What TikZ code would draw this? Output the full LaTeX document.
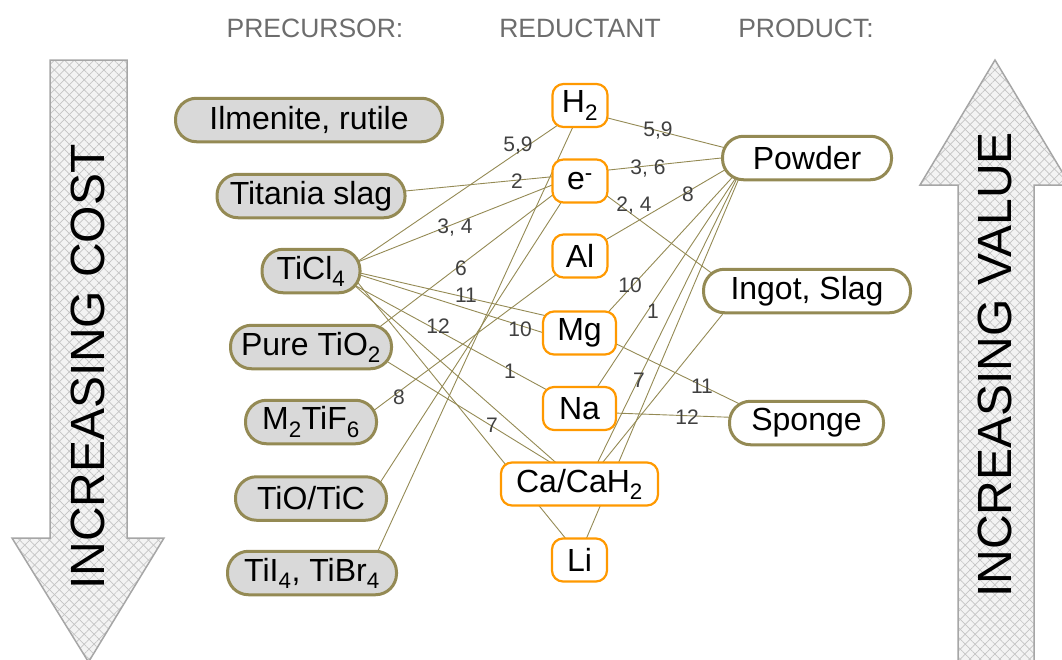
\documentclass[tikz,border=0pt]{standalone}
\usepackage{fontspec}
\setmainfont{Liberation Sans}
\usetikzlibrary{calc,patterns.meta}
\pgfdeclarelayer{bg}
\pgfsetlayers{bg,main}
\definecolor{olv}{HTML}{948A54}
\definecolor{org}{HTML}{FF9900}
\definecolor{gfill}{HTML}{D9D9D9}
\definecolor{lblc}{HTML}{404040}
\definecolor{hdrc}{HTML}{6D6D6D}
\definecolor{hatchbg}{HTML}{F3F3F3}
\definecolor{hatchln}{HTML}{C4C4C4}
\definecolor{arrbd}{HTML}{A6A6A6}
\tikzset{
  prec/.style={draw=olv, line width=3pt, fill=gfill, rounded corners=21pt,
    minimum height=43.5pt, inner sep=0pt, font=\fontsize{32}{36}\selectfont},
  prod/.style={prec, fill=white},
  red/.style={draw=org, line width=2.2pt, fill=white, rounded corners=11pt,
    minimum height=43pt, inner sep=0pt, font=\fontsize{32}{36}\selectfont},
  hdr/.style={text=hdrc, inner sep=0pt, font=\fontsize{26.5}{30}\selectfont},
  lbl/.style={text=lblc, inner sep=0pt, font=\fontsize{21}{24}\selectfont},
  link/.style={draw=olv, line width=0.9pt},
  bigarrow/.style={preaction={fill=hatchbg},
    preaction={pattern={Lines[angle=45,distance=7pt,line width=0.7pt]}, pattern color=hatchln},
    preaction={pattern={Lines[angle=-45,distance=7pt,line width=0.7pt]}, pattern color=hatchln},
    draw=arrbd, line width=1.5pt},
  arrtext/.style={rotate=90, inner sep=0pt, font=\fontsize{48}{52}\selectfont}
}
\begin{document}
\begin{tikzpicture}[x=1pt,y=-1pt]
\useasboundingbox (0,0) rectangle (1062,659);
\begin{scope}
\clip (0,0) rectangle (1062,659);
\path[bigarrow] (50,60) -- (127,60) -- (127,538) -- (164,538) -- (88.5,662) -- (12,538) -- (50,538) -- cycle;
\path[bigarrow] (958,700) -- (958,185) -- (920,185) -- (995,60) -- (1070,185) -- (1034,185) -- (1034,700) -- cycle;
\end{scope}
\node[arrtext] (cost) at (88,367) {INCREASING COST};
\node[arrtext] (value) at (995,365) {INCREASING VALUE};

\node[hdr] (hprec) at (315,28) {PRECURSOR:};
\node[hdr] (hred) at (580,28) {REDUCTANT};
\node[hdr] (hprod) at (806,28) {PRODUCT:};

\node[prec, minimum width=267pt] (ilm) at (309,120) {Ilmenite, rutile};
\node[prec, minimum width=188pt] (slag) at (311,196) {Titania slag};
\node[prec, minimum width=98pt] (ticl) at (311,271) {TiCl\textsubscript{4}};
\node[prec, minimum width=161pt] (tio2) at (311,347) {Pure TiO\textsubscript{2}};
\node[prec, minimum width=131pt] (mtif) at (311,422) {M\textsubscript{2}TiF\textsubscript{6}};
\node[prec, minimum width=151pt] (tioc) at (311,498.5) {TiO/TiC};
\node[prec, minimum width=169pt] (tii) at (312,573) {TiI\textsubscript{4}, TiBr\textsubscript{4}};

\node[red, minimum width=55pt] (h2) at (580,105.5) {H\textsubscript{2}};
\node[red, minimum width=55pt] (e) at (580,181) {e\textsuperscript{-}};
\node[red, minimum width=55pt] (al) at (580,256) {Al};
\node[red, minimum width=73pt] (mg) at (579.5,333) {Mg};
\node[red, minimum width=73pt] (na) at (579.5,408.5) {Na};
\node[red, minimum width=157pt] (ca) at (579.5,484) {Ca/CaH\textsubscript{2}};
\node[red, minimum width=55pt] (li) at (579.5,560) {Li};

\node[prod, minimum width=169pt] (pow) at (807,158) {Powder};
\node[prod, minimum width=207pt] (ing) at (807,291) {Ingot, Slag};
\node[prod, minimum width=154pt] (spo) at (806.5,423) {Sponge};

\begin{pgfonlayer}{bg}
\draw[link] ($(ticl)+(29,2.6)$) -- ($(h2)+(-10,11.3)$);
\draw[link] ($(slag)+(84,-4)$) -- ($(e)+(-10,-6)$);
\draw[link] ($(ticl)+(29,-2)$) -- ($(e)+(-10,-3)$);
\draw[link] ($(tio2)+(44,-1.3)$) -- ($(e)+(-10,0.75)$);
\draw[link] ($(tioc)+(64,-8)$) -- ($(e)+(-14,14)$);
\draw[link] ($(tii)+(59,-7)$) -- ($(h2)+(-3,12.5)$);
\draw[link] ($(mtif)+(54,-5)$) -- ($(al)+(-15,12)$);
\draw[link] ($(ticl)+(29,-2.6)$) -- ($(mg)+(-19.5,-14)$);
\draw[link] ($(ticl)+(29,-2.3)$) -- ($(mg)+(-19.5,5)$);
\draw[link] ($(ticl)+(34,9)$) -- ($(na)+(-19.5,-11.5)$);
\draw[link] ($(ticl)+(34,6)$) -- ($(ca)+(-9.5,-9)$);
\draw[link] ($(ticl)+(44.7,9)$) -- ($(li)+(-4.5,-10)$);
\draw[link] ($(tio2)+(64,7)$) -- ($(ca)+(-8.5,-9)$);
\draw[link] ($(h2)+(10,8)$) -- ($(pow)+(-67,-6.4)$);
\draw[link] ($(e)+(10,-9)$) -- ($(pow)+(-67,-2)$);
\draw[link] ($(e)+(15,6)$) -- ($(ing)+(-82,-8)$);
\draw[link] ($(al)+(10,-7)$) -- ($(pow)+(-67,3)$);
\draw[link] ($(mg)+(20.5,-12)$) -- ($(pow)+(-67,11)$);
\draw[link] ($(na)+(12.5,-13.5)$) -- ($(pow)+(-66,12)$);
\draw[link] ($(ca)+(12,-9)$) -- ($(pow)+(-66,12)$);
\draw[link] ($(li)+(2,-10)$) -- ($(pow)+(-64.5,12)$);
\draw[link] ($(ing)+(-77,14)$) -- ($(ca)+(13,-9)$);
\draw[link] ($(mg)+(20.5,3)$) -- ($(spo)+(-56.5,-14)$);
\draw[link] ($(na)+(20.5,4)$) -- ($(spo)+(-56.5,-5)$);
\end{pgfonlayer}

\node[lbl] (l59a) at (518,146) {5,9};
\node[lbl] (l59b) at (658,131) {5,9};
\node[lbl] (l2) at (517,181) {2};
\node[lbl] (l36) at (648,169) {3, 6};
\node[lbl] (l34) at (455,228) {3, 4};
\node[lbl] (l8a) at (688,194) {8};
\node[lbl] (l24) at (634,206) {2, 4};
\node[lbl] (l6) at (461,268) {6};
\node[lbl] (l11a) at (466,295) {11};
\node[lbl] (l10a) at (520,329) {10};
\node[lbl] (l12a) at (438,326) {12};
\node[lbl] (l1a) at (510,371) {1};
\node[lbl] (l10b) at (630,285) {10};
\node[lbl] (l1b) at (653,311) {1};
\node[lbl] (l7b) at (639,380) {7};
\node[lbl] (l11b) at (702,386) {11};
\node[lbl] (l12b) at (687,417) {12};
\node[lbl] (l8b) at (399,397) {8};
\node[lbl] (l7a) at (492,425) {7};
\end{tikzpicture}
\end{document}
